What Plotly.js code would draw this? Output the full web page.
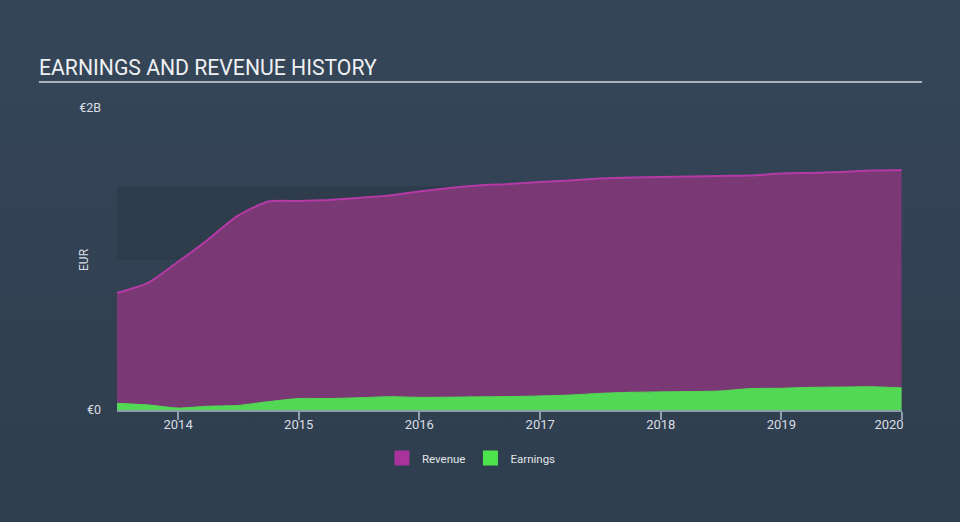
<!DOCTYPE html>
<html>
<head>
<meta charset="utf-8">
<script src="https://cdn.plot.ly/plotly-3.0.1.min.js"></script>
<style>
  html, body { margin: 0; padding: 0; }
  body { width: 960px; height: 522px; background: linear-gradient(180deg, #354659 0%, #2f3e4e 100%); }
  #chart { width: 960px; height: 522px; }
</style>
</head>
<body>
<div id="chart"></div>
<script>
// Quarter-end dates
const dates = [
  '2013-06-30','2013-09-30','2013-12-31','2014-03-31','2014-06-30','2014-09-30','2014-12-31',
  '2015-03-31','2015-06-30','2015-09-30','2015-12-31','2016-03-31','2016-06-30','2016-09-30',
  '2016-12-31','2017-03-31','2017-06-30','2017-09-30','2017-12-31','2018-03-31','2018-06-30',
  '2018-09-30','2018-12-31','2019-03-31','2019-06-30','2019-09-30','2019-12-31'
];
// Revenue (EUR)
const revenue = [
  0.775e9, 0.84e9, 0.98e9, 1.126e9, 1.285e9, 1.381e9, 1.384e9,
  1.391e9, 1.404e9, 1.42e9, 1.447e9, 1.47e9, 1.487e9, 1.497e9,
  1.51e9, 1.52e9, 1.533e9, 1.54e9, 1.543e9, 1.546e9, 1.55e9,
  1.553e9, 1.566e9, 1.57e9, 1.576e9, 1.586e9, 1.59e9
];
// Earnings (EUR)
const earnings = [
  0.044e9, 0.034e9, 0.013e9, 0.025e9, 0.03e9, 0.055e9, 0.076e9,
  0.076e9, 0.081e9, 0.088e9, 0.084e9, 0.085e9, 0.087e9, 0.089e9,
  0.093e9, 0.099e9, 0.11e9, 0.117e9, 0.12e9, 0.122e9, 0.126e9,
  0.142e9, 0.144e9, 0.15e9, 0.152e9, 0.154e9, 0.147e9
];
// Axis ticks
const xTickVals = ['2014-01-01','2015-01-01','2016-01-01','2017-01-01','2018-01-01','2019-01-01','2020-01-01'];
const xTickText = ['2014','2015','2016','2017','2018','2019','2020' + '\u00a0'.repeat(8)];
const yTickVals = [0, 2e9];
const yTickText = ['€0', '€2B'];
// Shaded band
const bandStart = '2013-06-30', bandEnd = '2019-12-31';
const bandLow = 0.993e9, bandHigh = 1.483e9;
const rangeEnd = '2020-01-01 06:00';

const traces = [
  { x: dates, y: revenue, type: 'scatter', mode: 'lines', fill: 'tozeroy',
    line: { color: '#b43aa5', width: 2, shape: 'spline', smoothing: 0.6 },
    fillcolor: 'rgb(122,56,116)', showlegend: false, hoverinfo: 'skip' },
  { x: dates, y: earnings, type: 'scatter', mode: 'lines', fill: 'tozeroy',
    line: { color: '#52d854', width: 1, shape: 'spline', smoothing: 0.6 },
    fillcolor: '#52d854', showlegend: false, hoverinfo: 'skip' },
  { x: [null], y: [null], type: 'scatter', mode: 'markers', name: 'Revenue',
    marker: { symbol: 'square', size: 15, color: '#a8339a' } },
  { x: [null], y: [null], type: 'scatter', mode: 'markers', name: 'Earnings',
    marker: { symbol: 'square', size: 15, color: '#4ee44e' } }
];

const axisColor = '#8e9cab';
const layout = {
  width: 960, height: 522,
  margin: { l: 117, r: 58, t: 108, b: 112 },
  paper_bgcolor: 'rgba(0,0,0,0)',
  plot_bgcolor: 'rgba(0,0,0,0)',
  font: { family: 'Roboto, sans-serif', color: '#d9dee3', size: 12 },
  title: { text: 'EARNINGS AND REVENUE HISTORY', xref: 'container', yref: 'container',
           x: 39/960, xanchor: 'left', y: 1 - 68/522, yanchor: 'middle',
           font: { family: 'Roboto, sans-serif', size: 21.2, color: '#eef0f2' } },
  xaxis: {
    type: 'date', range: [dates[0], rangeEnd],
    tickvals: xTickVals, ticktext: xTickText,
    showgrid: false, zeroline: false,
    showline: true, linecolor: axisColor, linewidth: 2,
    ticks: 'outside', ticklen: 8, tickcolor: axisColor, tickwidth: 2,
    ticklabelstandoff: -7,
    tickfont: { size: 13, color: '#d9dee3' }
  },
  yaxis: {
    range: [0, 2e9], tickvals: yTickVals, ticktext: yTickText,
    showgrid: false, zeroline: false, showline: false, ticks: '',
    ticklabelstandoff: 15,
    tickfont: { size: 12.5, color: '#d9dee3' }
  },
  legend: { orientation: 'h', x: (471 - 117) / 784, xanchor: 'center',
            y: (410 - 458) / 302, yanchor: 'middle',
            font: { size: 11.5, color: '#e0e4e8' }, itemwidth: 30 },
  shapes: [
    { type: 'rect', xref: 'x', yref: 'y', x0: bandStart, x1: bandEnd, y0: bandLow, y1: bandHigh,
      fillcolor: '#2e3c4b', line: { width: 0 }, layer: 'below' },
    { type: 'line', xref: 'paper', yref: 'paper',
      x0: (39 - 117) / 784, x1: (921 - 117) / 784, y0: (410 - 82) / 302, y1: (410 - 82) / 302,
      line: { color: '#aab3bc', width: 2 } }
  ],
  annotations: [
    { text: 'EUR', xref: 'paper', yref: 'paper', x: (84 - 117) / 784, y: 0.5,
      xanchor: 'center', yanchor: 'middle', textangle: -90, showarrow: false,
      font: { size: 12, color: '#d9dee3' } }
  ]
};

Plotly.newPlot('chart', traces, layout, { displayModeBar: false, staticPlot: true });
</script>
</body>
</html>
